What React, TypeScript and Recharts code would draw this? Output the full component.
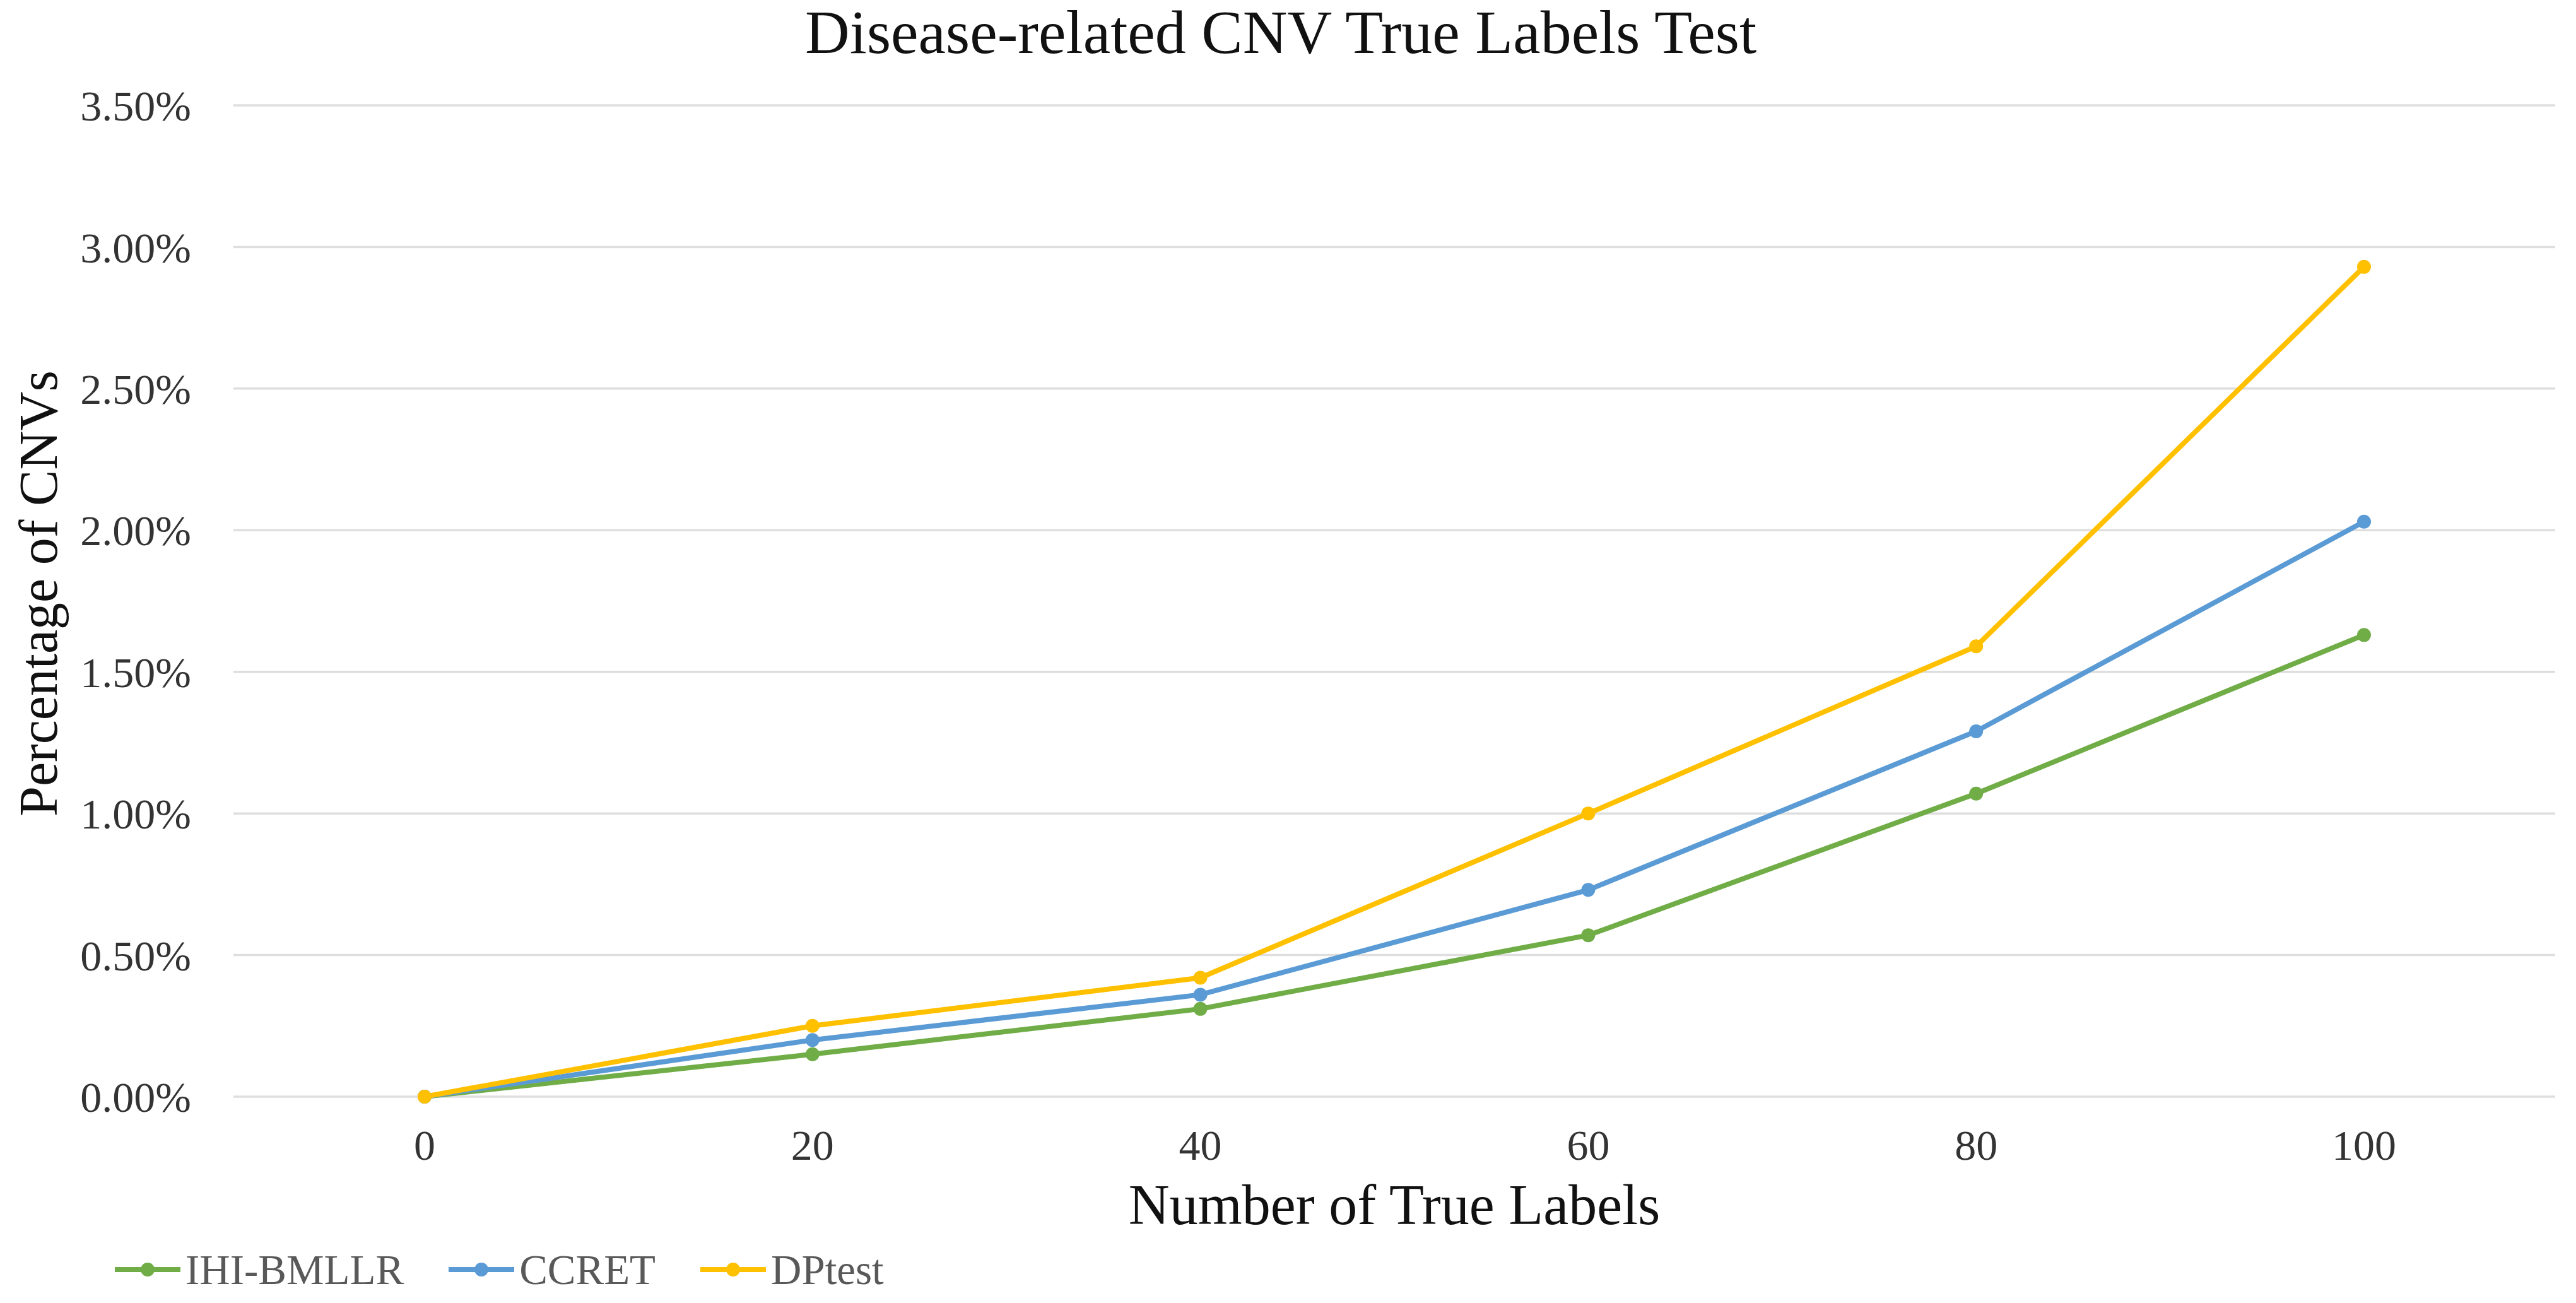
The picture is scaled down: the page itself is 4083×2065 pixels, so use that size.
import React from "react";
import { LineChart, Line, XAxis, YAxis, CartesianGrid, Legend } from "recharts";

const labels = ["0", "20", "40", "60", "80", "100"];
const ihiBmllr = [0, 0.15, 0.31, 0.57, 1.07, 1.63];
const ccret = [0, 0.2, 0.36, 0.73, 1.29, 2.03];
const dpTest = [0, 0.25, 0.42, 1.0, 1.59, 2.93];
const yTicks = [0, 0.5, 1, 1.5, 2, 2.5, 3, 3.5];

const data = labels.map((label, i) => ({
  label,
  ihi: ihiBmllr[i],
  ccret: ccret[i],
  dp: dpTest[i],
}));

const FONT = '"Liberation Serif", "Times New Roman", serif';

const series = [
  { key: "ihi", name: "IHI-BMLLR", color: "#70AD47" },
  { key: "ccret", name: "CCRET", color: "#5B9BD5" },
  { key: "dp", name: "DPtest", color: "#FFC000" },
];

function XLabel({ viewBox }: any) {
  return (
    <text
      x={viewBox.x + viewBox.width / 2}
      y={viewBox.y + 202}
      textAnchor="middle"
      fontFamily={FONT}
      fontSize={90}
      fill="#111"
    >
      Number of True Labels
    </text>
  );
}

function YLabel({ viewBox }: any) {
  const x = viewBox.x + 90;
  const y = viewBox.y + viewBox.height / 2 - 12;
  return (
    <text
      x={x}
      y={y}
      transform={`rotate(-90, ${x}, ${y})`}
      textAnchor="middle"
      fontFamily={FONT}
      fontSize={86}
      fill="#111"
    >
      Percentage of CNVs
    </text>
  );
}

// excel style legend: short line with a dot in the middle
function LegendContent() {
  return (
    <div style={{ display: "flex", alignItems: "center", height: 80 }}>
      {series.map((s) => (
        <div key={s.key} style={{ display: "flex", alignItems: "center", marginRight: 71 }}>
          <svg width={104} height={30}>
            <line x1={0} y1={15} x2={104} y2={15} stroke={s.color} strokeWidth={8} />
            <circle cx={52} cy={15} r={11} fill={s.color} />
          </svg>
          <span
            style={{
              marginLeft: 8,
              fontFamily: FONT,
              fontSize: 67,
              color: "#595959",
              lineHeight: 1,
            }}
          >
            {s.name}
          </span>
        </div>
      ))}
    </div>
  );
}

export default function App() {
  return (
    <div style={{ position: "absolute", left: 0, top: 0, width: 4083, height: 2065, background: "#fff" }}>
      <div
        style={{
          position: "absolute",
          left: 0,
          top: 2,
          width: 4060,
          textAlign: "center",
          fontFamily: FONT,
          fontSize: 98,
          lineHeight: 1,
          color: "#111",
        }}
      >
        Disease-related CNV True Labels Test
      </div>
      <LineChart
        width={4083}
        height={2065}
        data={data}
        margin={{ top: 167, right: 33, bottom: 0, left: 0 }}
      >
        <CartesianGrid vertical={false} stroke="#dedede" strokeWidth={3.5} />
        <XAxis
          dataKey="label"
          height={327}
          axisLine={false}
          tickLine={false}
          tickSize={0}
          tickMargin={52}
          padding={{ left: 303, right: 303 }}
          tick={{ fill: "#333", fontSize: 68, fontFamily: FONT }}
          label={<XLabel />}
        />
        <YAxis
          width={370}
          domain={[0, 3.5]}
          ticks={yTicks}
          axisLine={false}
          tickLine={false}
          tickSize={0}
          tickMargin={67}
          tickFormatter={(v: number) => v.toFixed(2) + "%"}
          tick={{ fill: "#333", fontSize: 68, fontFamily: FONT }}
          label={<YLabel />}
        />
        <Legend
          layout="horizontal"
          verticalAlign="middle"
          align="center"
          content={<LegendContent />}
          wrapperStyle={{ top: 1972, left: 182, width: 2000, height: 80 }}
        />
        {series.map((s) => (
          <Line
            key={s.key}
            type="linear"
            dataKey={s.key}
            name={s.name}
            stroke={s.color}
            strokeWidth={8}
            dot={{ r: 11, fill: s.color, stroke: s.color, strokeWidth: 0 }}
            activeDot={false}
            isAnimationActive={false}
          />
        ))}
      </LineChart>
    </div>
  );
}
